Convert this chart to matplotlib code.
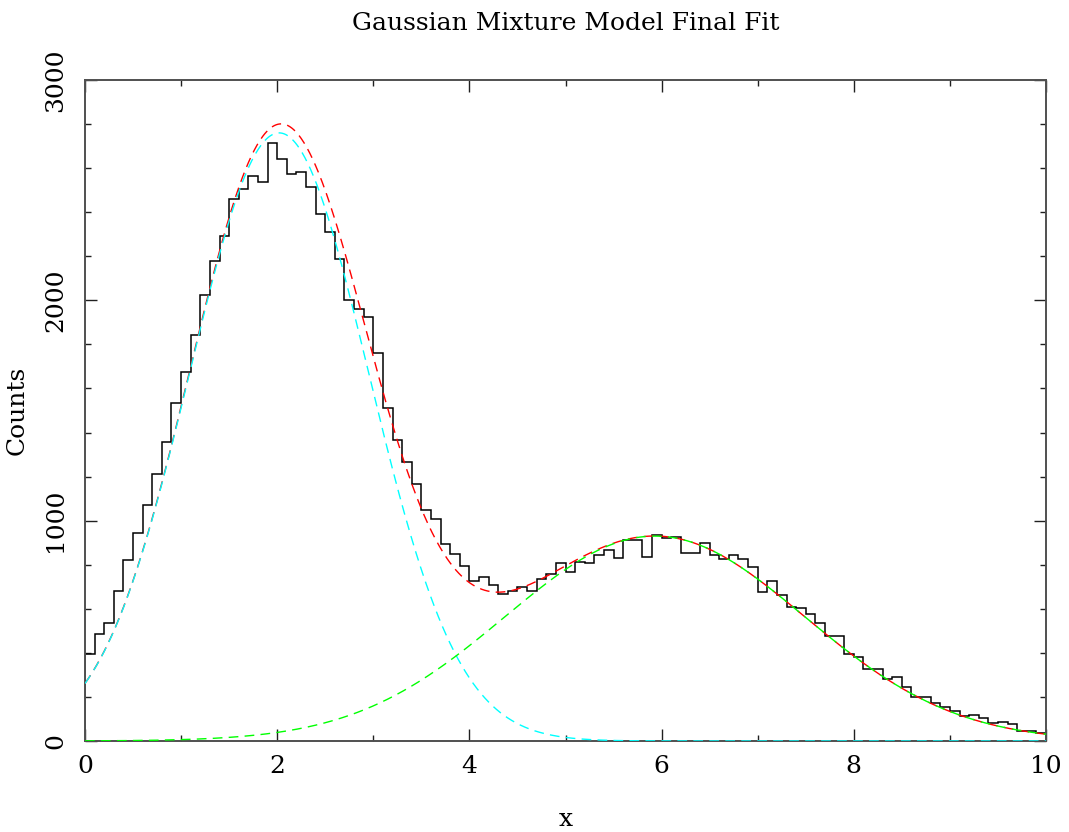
import numpy as np
import matplotlib
matplotlib.use("Agg")
import matplotlib.pyplot as plt
from matplotlib.ticker import MultipleLocator

# Histogram: counts per bin, 100 bins of width 0.1 spanning [0, 10]
bin_edges = np.linspace(0.0, 10.0, 101)
counts = [
    395, 486, 536, 679, 820, 946, 1071, 1213, 1357, 1533,
    1676, 1843, 2024, 2179, 2292, 2460, 2504, 2565, 2536, 2713,
    2643, 2574, 2583, 2516, 2392, 2309, 2189, 2002, 1960, 1926,
    1760, 1510, 1365, 1266, 1165, 1047, 1008, 896, 849, 794,
    726, 744, 709, 667, 680, 700, 680, 734, 758, 806,
    768, 814, 810, 844, 868, 830, 913, 912, 834, 933,
    921, 925, 855, 855, 900, 843, 826, 843, 828, 788,
    676, 726, 663, 607, 604, 575, 534, 477, 475, 393,
    383, 328, 327, 283, 292, 246, 198, 201, 174, 156,
    135, 115, 116, 104, 82, 85, 76, 47, 47, 35,
]

# Fitted mixture components (amplitude in counts per bin, mean, sigma)
amplitudes = [2760.0, 930.0]
means = [2.02, 5.93]
sigmas = [0.93, 1.56]
component_colors = ["#00ffff", "#00ff00"]

title = "Gaussian Mixture Model Final Fit"
x_label = "x"
y_label = "Counts"

plt.rcParams["font.family"] = ["DejaVu Serif"]

W, H = 1069, 832
fig = plt.figure(figsize=(W / 100, H / 100), dpi=100)
ax = fig.add_axes([85 / W, 1 - 741 / H, (1046 - 85) / W, (741 - 80) / H])

xs = np.linspace(0, 10, 1001)
components = [a * np.exp(-0.5 * ((xs - m) / s) ** 2)
              for a, m, s in zip(amplitudes, means, sigmas)]
total = np.sum(components, axis=0)

ax.stairs(counts, bin_edges, color="black", lw=1.1, baseline=0, zorder=2)
dash = (0, (7, 4.5))
ax.plot(xs, total, color="#ff0000", lw=1.0, linestyle=dash, zorder=3)
for comp, col in zip(components, component_colors):
    ax.plot(xs, comp, color=col, lw=1.0, linestyle=dash, zorder=3)

ax.set_xlim(0, 10)
ax.set_ylim(0, 3000)
ax.xaxis.set_major_locator(MultipleLocator(2))
ax.xaxis.set_minor_locator(MultipleLocator(1))
ax.yaxis.set_major_locator(MultipleLocator(1000))
ax.yaxis.set_minor_locator(MultipleLocator(200))

for sp in ax.spines.values():
    sp.set_color("#505050")
    sp.set_linewidth(1.4)

ax.tick_params(which="both", direction="in", top=True, right=True,
               color="#202020", width=1.0)
ax.tick_params(which="major", length=8.6)
ax.tick_params(which="minor", length=4.6)
ax.tick_params(axis="x", which="major", labelsize=18, pad=10)
ax.tick_params(axis="y", which="major", labelsize=18, pad=13, labelrotation=90)
for lab in ax.get_yticklabels():
    lab.set_verticalalignment("center")

fig.text(565.5 / W, 1 - 30 / H, title, ha="center", va="baseline", fontsize=18)
fig.text(565.5 / W, 1 - 826 / H, x_label, ha="center", va="baseline", fontsize=18)
ax.set_ylabel(y_label, fontsize=18)
ax.yaxis.set_label_coords((29 - 85) / (1046 - 85), 0.5)

fig.savefig("out.png", dpi=100, facecolor="white")
